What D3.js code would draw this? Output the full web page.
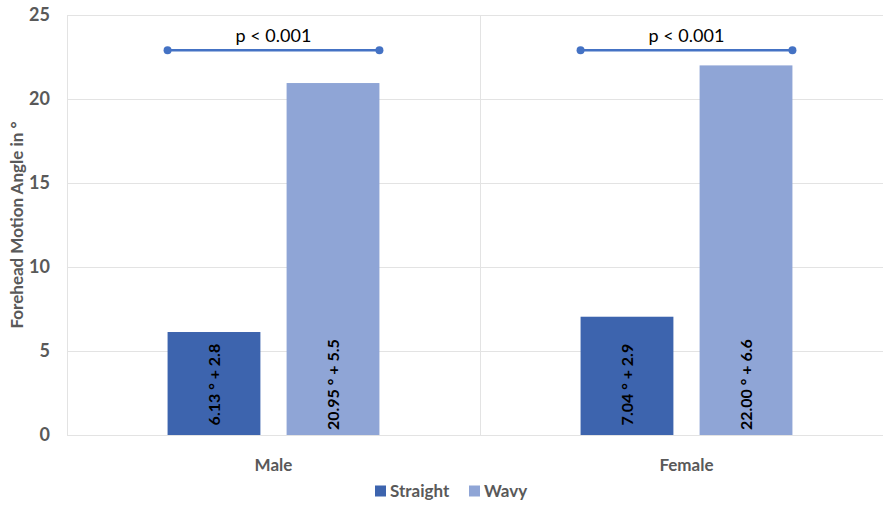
<!DOCTYPE html>
<html>
<head>
<meta charset="utf-8">
<script src="https://cdn.jsdelivr.net/npm/d3@7"></script>
<style>
  body { margin: 0; background: #fff; }
  text { font-family: Lato, "Open Sans", sans-serif; }
</style>
</head>
<body>
<div id="chart"></div>
<script>
var groups = ['Male', 'Female']
var seriesNames = ['Straight', 'Wavy']
var straight = [6.13, 7.04]
var wavy = [20.95, 22.0]
var barLabels = [['6.13 ° + 2.8', '20.95 ° + 5.5'], ['7.04 ° + 2.9', '22.00 ° + 6.6']]
var pLabels = ['p < 0.001', 'p < 0.001']
var pLevel = 22.9
var yTicks = [0, 5, 10, 15, 20, 25]
var colors = ['#3d64ae', '#8fa5d6']

var width = 883
var height = 505
var margin = { top: 15, left: 67, right: -10, bottom: 70 }

var svg = d3.select('#chart').append('svg')
  .attr('width', width)
  .attr('height', height)

var x = d3.scaleBand()
  .domain(groups)
  .range([margin.left, width - margin.right])

var xInner = d3.scaleBand()
  .domain(seriesNames)
  .range([0, x.bandwidth()])
  .paddingInner(0.22)
  .paddingOuter(0.845)

var y = d3.scaleLinear()
  .domain([0, 25])
  .range([height - margin.bottom, margin.top])

// gridlines
svg.append('g')
  .selectAll('line')
  .data(yTicks)
  .join('line')
  .attr('x1', margin.left)
  .attr('x2', width)
  .attr('y1', d => Math.round(y(d)) + 0.5)
  .attr('y2', d => Math.round(y(d)) + 0.5)
  .attr('stroke', '#e3e3e3')
  .attr('stroke-width', 1)

// vertical category separators
svg.append('g')
  .selectAll('line')
  .data(groups)
  .join('line')
  .attr('x1', d => Math.round(x(d)) + 0.5)
  .attr('x2', d => Math.round(x(d)) + 0.5)
  .attr('y1', y(25))
  .attr('y2', y(0))
  .attr('stroke', '#e3e3e3')

// y tick labels
svg.append('g')
  .selectAll('text')
  .data(yTicks)
  .join('text')
  .attr('x', 50)
  .attr('y', d => y(d))
  .attr('dy', '0.35em')
  .attr('text-anchor', 'end')
  .attr('font-size', 18)
  .attr('font-weight', 'bold')
  .attr('fill', '#595959')
  .text(d => d)

// y title
svg.append('text')
  .attr('transform', 'translate(17,' + 225 + ') rotate(-90)')
  .attr('text-anchor', 'middle')
  .attr('dy', '0.35em')
  .attr('font-size', 17)
  .attr('font-weight', 'bold')
  .attr('fill', '#595959')
  .text('Forehead Motion Angle in °')

// bars
var rows = groups.map((g, i) => ({ group: g, values: [straight[i], wavy[i]], labels: barLabels[i], p: pLabels[i] }))

var gGroups = svg.append('g')
  .selectAll('g')
  .data(rows)
  .join('g')
  .attr('transform', d => 'translate(' + x(d.group) + ',0)')

gGroups.selectAll('rect')
  .data(d => d.values.map((v, j) => ({ name: seriesNames[j], value: v, label: d.labels[j] })))
  .join('rect')
  .attr('x', d => xInner(d.name))
  .attr('width', xInner.bandwidth())
  .attr('y', d => y(d.value))
  .attr('height', d => y(0) - y(d.value))
  .attr('fill', (d, j) => colors[j])

gGroups.selectAll('text.bar-label')
  .data(d => d.values.map((v, j) => ({ name: seriesNames[j], value: v, label: d.labels[j] })))
  .join('text')
  .attr('class', 'bar-label')
  .attr('transform', d => 'translate(' + (xInner(d.name) + xInner.bandwidth() / 2) + ',' + y(3) + ') rotate(-90)')
  .attr('text-anchor', 'middle')
  .attr('dy', '0.35em')
  .attr('font-size', 16)
  .attr('font-weight', 'bold')
  .attr('fill', '#000')
  .text(d => d.label)

// significance brackets
gGroups.append('line')
  .attr('x1', xInner('Straight'))
  .attr('x2', xInner('Wavy') + xInner.bandwidth())
  .attr('y1', y(pLevel))
  .attr('y2', y(pLevel))
  .attr('stroke', '#4472c4')
  .attr('stroke-width', 2.5)

gGroups.selectAll('circle')
  .data([xInner('Straight'), xInner('Wavy') + xInner.bandwidth()])
  .join('circle')
  .attr('cx', d => d)
  .attr('cy', y(pLevel))
  .attr('r', 4)
  .attr('fill', '#4472c4')

gGroups.append('text')
  .attr('x', x.bandwidth() / 2)
  .attr('y', y(pLevel) - 8)
  .attr('text-anchor', 'middle')
  .attr('font-size', 18)
  .attr('fill', '#000')
  .text(d => d.p)

// x labels
svg.append('g')
  .selectAll('text')
  .data(groups)
  .join('text')
  .attr('x', d => x(d) + x.bandwidth() / 2)
  .attr('y', 465)
  .attr('dy', '0.35em')
  .attr('text-anchor', 'middle')
  .attr('font-size', 17)
  .attr('font-weight', 'bold')
  .attr('fill', '#595959')
  .text(d => d)

// legend
var legend = svg.append('g').attr('transform', 'translate(375,491)')
var legendX = [0, 94]
seriesNames.forEach((name, i) => {
  legend.append('rect')
    .attr('x', legendX[i])
    .attr('y', -5.5)
    .attr('width', 11)
    .attr('height', 11)
    .attr('fill', colors[i])
  legend.append('text')
    .attr('x', legendX[i] + 15)
    .attr('y', 0)
    .attr('dy', '0.35em')
    .attr('font-size', 17)
    .attr('font-weight', 'bold')
    .attr('fill', '#595959')
    .text(name)
})
</script>
</body>
</html>
